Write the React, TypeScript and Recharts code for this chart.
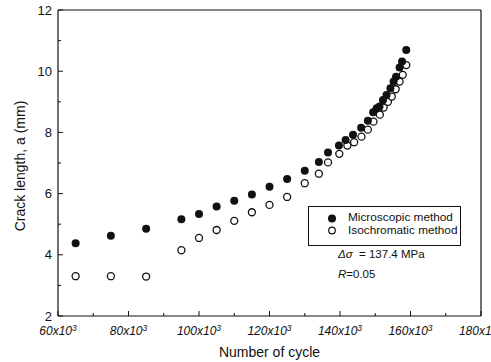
import {
  ScatterChart,
  Scatter,
  XAxis,
  YAxis,
  ReferenceLine
} from "recharts";

// Number of cycles (x10^3) and crack length (mm)
const microCycles = [65, 75, 85, 95, 100, 105, 110, 115, 120, 125, 130, 134, 136.6, 139.7, 141.6, 143.7, 146, 147.9, 149.4, 150.4, 151.2, 152.2, 153.2, 154.3, 155.2, 155.9, 156.9, 157.6, 158.8];
const microCrack = [4.38, 4.62, 4.85, 5.16, 5.33, 5.58, 5.77, 5.97, 6.22, 6.48, 6.75, 7.03, 7.34, 7.57, 7.75, 7.92, 8.15, 8.38, 8.66, 8.79, 8.85, 9.06, 9.22, 9.44, 9.66, 9.82, 10.12, 10.32, 10.69];

const isoCycles = [65, 75, 85, 95, 100, 105, 110, 115, 120, 125, 130, 134, 136.6, 139.8, 142.1, 144, 146.1, 147.9, 149.5, 151.3, 152.4, 153.6, 154.7, 155.8, 156.9, 157.8, 158.8];
const isoCrack = [3.3, 3.3, 3.29, 4.15, 4.55, 4.81, 5.11, 5.39, 5.63, 5.89, 6.34, 6.65, 7.02, 7.3, 7.57, 7.68, 7.86, 8.09, 8.35, 8.58, 8.81, 9.0, 9.17, 9.41, 9.66, 9.88, 10.2];

const xTicks = [60, 70, 80, 90, 100, 110, 120, 130, 140, 150, 160, 170, 180];
const yTicks = [2, 3, 4, 5, 6, 7, 8, 9, 10, 11, 12];

const microData = microCycles.map((n, i) => ({ n, a: microCrack[i] }));
const isoData = isoCycles.map((n, i) => ({ n, a: isoCrack[i] }));

const FONT = "'Liberation Sans', Arial, sans-serif";
const INK = "#111";

function FilledDot(props: any) {
  const { cx, cy } = props;
  return <circle cx={cx} cy={cy} r={4} fill={INK} />;
}

function OpenDot(props: any) {
  const { cx, cy } = props;
  return <circle cx={cx} cy={cy} r={3.5} fill="#fff" stroke={INK} strokeWidth={1.3} />;
}

function YTick(props: any) {
  const { x, y, payload } = props;
  const major = payload.value % 2 === 0;
  return (
    <g>
      <line x1={x} y1={y} x2={x + (major ? 5 : 3)} y2={y} stroke={INK} />
      {major && (
        <text x={x - 6} y={y + 4.5} textAnchor="end" fontSize={13} fontFamily={FONT} fill={INK}>
          {payload.value}
        </text>
      )}
    </g>
  );
}

function XTick(props: any) {
  const { x, y, payload } = props;
  const major = payload.value % 20 === 0;
  return (
    <g>
      <line x1={x} y1={y} x2={x} y2={y - (major ? 5 : 3)} stroke={INK} />
      {major && (
        <text x={x} y={y + 19} textAnchor="middle" fontSize={12} fontStyle="italic" fontFamily={FONT} fill={INK}>
          {payload.value}x10
          <tspan fontSize={8.5} dy={-4.5}>3</tspan>
        </text>
      )}
    </g>
  );
}

export default function App() {
  return (
    <div style={{ position: "absolute", left: 0, top: 0, width: 491, height: 362, overflow: "hidden", background: "#fff" }}>
      <ScatterChart width={491} height={362} margin={{ top: 10, right: 10, left: 0, bottom: 0 }}>
        <XAxis
          type="number"
          dataKey="n"
          domain={[60, 180]}
          ticks={xTicks}
          interval={0}
          height={46}
          tickSize={0}
          tickMargin={0}
          tickLine={false}
          axisLine={{ stroke: INK, strokeWidth: 1.2 }}
          tick={<XTick />}
          label={{ value: "Number of cycle", position: "center", dy: 13, fontSize: 14, fontFamily: FONT, fill: INK }}
        />
        <YAxis
          type="number"
          dataKey="a"
          domain={[2, 12]}
          ticks={yTicks}
          interval={0}
          width={58}
          tickSize={0}
          tickMargin={0}
          tickLine={false}
          axisLine={{ stroke: INK, strokeWidth: 1.2 }}
          tick={<YTick />}
          label={{ value: "Crack length, a (mm)", angle: -90, position: "center", dx: -9, dy: 3, fontSize: 14, fontFamily: FONT, fill: INK }}
        />
        <ReferenceLine y={12} stroke={INK} strokeWidth={1.2} />
        <ReferenceLine x={180} stroke={INK} strokeWidth={1.2} />
        <Scatter data={isoData} shape={<OpenDot />} isAnimationActive={false} />
        <Scatter data={microData} shape={<FilledDot />} isAnimationActive={false} />
      </ScatterChart>

      {/* legend box */}
      <div
        style={{
          position: "absolute",
          left: 308,
          top: 206,
          width: 153,
          height: 40,
          border: `1px solid ${INK}`,
          boxSizing: "border-box",
          fontFamily: FONT,
          fontSize: 11.8,
          color: INK
        }}
      >
        <svg width={20} height={30} style={{ position: "absolute", left: 17, top: 4 }}>
          <circle cx={6} cy={7.5} r={4} fill={INK} />
          <circle cx={6} cy={19.5} r={3.3} fill="#fff" stroke={INK} strokeWidth={1.2} />
        </svg>
        <div style={{ position: "absolute", left: 39, top: 4, lineHeight: "12.5px", whiteSpace: "nowrap" }}>
          <div>Microscopic method</div>
          <div>Isochromatic method</div>
        </div>
      </div>

      <div style={{ position: "absolute", left: 338, top: 248, fontFamily: FONT, fontSize: 11.5, color: INK, whiteSpace: "nowrap" }}>
        <i>Δσ</i>&nbsp; = 137.4 MPa
      </div>
      <div style={{ position: "absolute", left: 338, top: 268, fontFamily: FONT, fontSize: 11.5, color: INK, whiteSpace: "nowrap" }}>
        <i>R</i>=0.05
      </div>
    </div>
  );
}
